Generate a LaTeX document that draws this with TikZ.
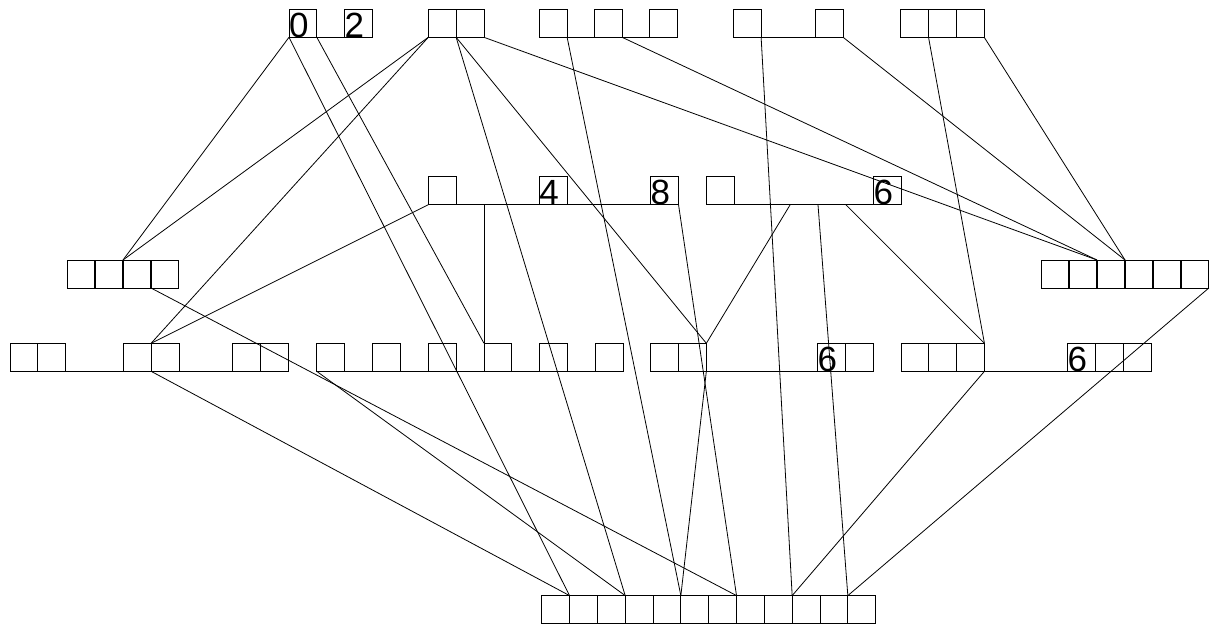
\documentclass[tikz,border=0pt]{standalone}
\usepackage{fontspec}
\setmainfont{Liberation Sans}
\begin{document}
\begin{tikzpicture}[x=1pt,y=-1pt,line width=0.8pt,
  cell/.style={draw,minimum width=27.83pt,minimum height=28pt,inner sep=0pt,outer sep=0pt,anchor=north west},
  digit/.style={anchor=base west,inner sep=0pt,outer sep=0pt,font=\fontsize{35}{35}\selectfont},
  conn/.style={draw,line width=0.8pt}]
\useasboundingbox (0,0) rectangle (1211,624);
% ---- row 1
\node[cell] (t1a) at (289,9.3) {};
\node[cell] (t1b) at (344.7,9.3) {};
\node[cell] (t2a) at (428.3,9.3) {};
\node[cell] (t2b) at (456.1,9.3) {};
\node[cell] (t3a) at (539.3,9.3) {};
\node[cell] (t3b) at (594.3,9.3) {};
\node[cell] (t3c) at (649.3,9.3) {};
\node[cell] (t4a) at (733.3,9.3) {};
\node[cell] (t4b) at (815.3,9.3) {};
\node[cell] (t5a) at (900.7,9.3) {};
\node[cell] (t5b) at (928.5,9.3) {};
\node[cell] (t5c) at (956.4,9.3) {};
\draw (t1a.south east) -- (t1b.south west);
\draw (t3a.south east) -- (t3b.south west);
\draw (t3b.south east) -- (t3c.south west);
\draw (t4a.south east) -- (t4b.south west);
% ---- row 2
\node[cell] (m1a) at (428.3,176.7) {};
\node[cell] (m1b) at (539.3,176.7) {};
\node[cell] (m1c) at (650.7,176.7) {};
\node[cell] (m2a) at (706.7,176.7) {};
\node[cell] (m2b) at (873.5,176.7) {};
\draw (m1a.south east) -- (m1b.south west);
\draw (m1b.south east) -- (m1c.south west);
\draw (m2a.south east) -- (m2b.south west);
% ---- row 3
\node[cell] (l3a) at (67,260) {};
\node[cell] (l3b) at (95,260) {};
\node[cell] (l3c) at (123,260) {};
\node[cell] (l3d) at (151,260) {};
\node[cell] (r3a) at (1041,260) {};
\node[cell] (r3b) at (1069,260) {};
\node[cell] (r3c) at (1097,260) {};
\node[cell] (r3d) at (1125,260) {};
\node[cell] (r3e) at (1153,260) {};
\node[cell] (r3f) at (1181,260) {};
% ---- row 4
\node[cell] (a1) at (10,343.3) {};
\node[cell] (a2) at (37.8,343.3) {};
\node[cell] (a3) at (123.3,343.3) {};
\node[cell] (a4) at (151.1,343.3) {};
\node[cell] (a5) at (232.5,343.3) {};
\node[cell] (a6) at (260.3,343.3) {};
\draw (a2.south east) -- (a3.south west);
\draw (a4.south east) -- (a5.south west);
\node[cell] (b1) at (316.7,343.3) {};
\node[cell] (b2) at (372.7,343.3) {};
\node[cell] (b3) at (428.3,343.3) {};
\node[cell] (b4) at (484,343.3) {};
\node[cell] (b5) at (539.3,343.3) {};
\node[cell] (b6) at (595.3,343.3) {};
\draw (b1.south west) -- (b6.south east);
\node[cell] (c1) at (650.7,343.3) {};
\node[cell] (c2) at (678.5,343.3) {};
\node[cell] (c3) at (817.5,343.3) {};
\node[cell] (c4) at (845.3,343.3) {};
\draw (c2.south east) -- (c3.south west);
\node[cell] (d1) at (901,343.3) {};
\node[cell] (d2) at (928.8,343.3) {};
\node[cell] (d3) at (956.6,343.3) {};
\node[cell] (d4) at (1067.6,343.3) {};
\node[cell] (d5) at (1095.4,343.3) {};
\node[cell] (d6) at (1123.2,343.3) {};
\draw (d3.south east) -- (d4.south west);
% ---- row 5
\foreach \i in {1,...,12}
  \node[cell] (z\i) at ({541.7+27.83*(\i-1)},595.6) {};
% ---- digits
\node[digit] (g0) at (t1a.south west) {0};
\node[digit] (g2) at (t1b.south west) {2};
\node[digit] (g4) at (m1b.south west) {4};
\node[digit] (g8) at (m1c.south west) {8};
\node[digit] (g6a) at (m2b.south west) {6};
\node[digit] (g6b) at (c3.south west) {6};
\node[digit] (g6c) at (d4.south west) {6};
% ---- hidden ports
\coordinate (m1p) at (b4.north west |- m1a.south west);
\coordinate (m2p) at (790.2,204.7);
\coordinate (m2q) at (818,204.7);
\coordinate (m2r) at (845.8,204.7);
% ---- connectors
\path[conn] (t1a.south west) -- (l3c.north west);
\path[conn] (t1a.south west) -- (z2.north west);
\path[conn] (t1a.south east) -- (b4.north west);
\path[conn] (t2a.south west) -- (l3c.north west);
\path[conn] (t2a.south west) -- (a4.north west);
\path[conn] (t2a.south east) -- (c2.north east);
\path[conn] (t2a.south east) -- (z4.north west);
\path[conn] (t2b.south east) -- (r3c.north west);
\path[conn] (t3a.south east) -- (z6.north west);
\path[conn] (t3b.south east) -- (r3c.north west);
\path[conn] (t4a.south east) -- (z10.north west);
\path[conn] (t4b.south east) -- (r3d.north west);
\path[conn] (t5a.south east) -- (d3.north east);
\path[conn] (t5c.south east) -- (r3d.north west);
\path[conn] (m1a.south west) -- (a4.north west);
\path[conn] (m1p) -- (b4.north west);
\path[conn] (m1c.south east) -- (z8.north west);
\path[conn] (m2p) -- (c2.north east);
\path[conn] (m2q) -- (z12.north west);
\path[conn] (m2r) -- (d3.north east);
\path[conn] (l3d.south west) -- (z8.north west);
\path[conn] (r3f.south east) -- (z12.north west);
\path[conn] (a4.south west) -- (z2.north west);
\path[conn] (b1.south west) -- (z4.north west);
\path[conn] (c2.south east) -- (z6.north west);
\path[conn] (d3.south east) -- (z10.north west);
\end{tikzpicture}
\end{document}
